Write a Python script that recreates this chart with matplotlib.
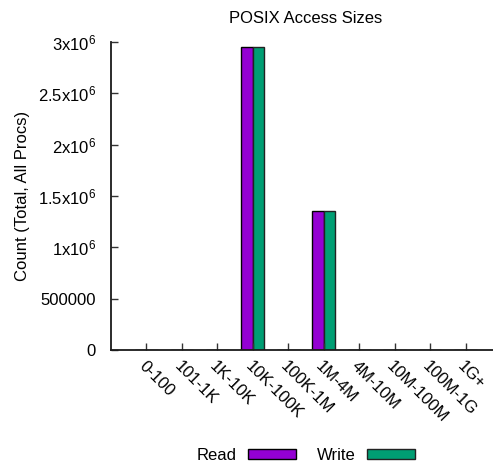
import numpy as np
import matplotlib
matplotlib.use("Agg")
import matplotlib.pyplot as plt

# access size buckets and counts
categories = ["0-100", "101-1K", "1K-10K", "10K-100K", "100K-1M",
              "1M-4M", "4M-10M", "10M-100M", "100M-1G", "1G+"]
read_counts = [0, 0, 0, 2948000, 0, 1351000, 0, 0, 0, 0]
write_counts = [0, 0, 0, 2950000, 0, 1350000, 0, 0, 0, 0]
ytick_values = [0, 500000, 1000000, 1500000, 2000000, 2500000, 3000000]
ytick_labels = ["0", "500000", "1x10$^{6}$", "1.5x10$^{6}$", "2x10$^{6}$",
                "2.5x10$^{6}$", "3x10$^{6}$"]

plt.rcParams["font.family"] = ["Liberation Sans", "DejaVu Sans"]
plt.rcParams["mathtext.fontset"] = "custom"
plt.rcParams["mathtext.rm"] = "Liberation Sans"
plt.rcParams["mathtext.it"] = "Liberation Sans:italic"
plt.rcParams["mathtext.bf"] = "Liberation Sans:bold"
plt.rcParams["font.size"] = 12

fig = plt.figure(figsize=(4.93, 4.63), dpi=100)
ax = fig.add_axes([111 / 493, 1 - 350 / 463, (501 - 111) / 493, (350 - 42) / 463])

x = np.arange(len(categories))
w = 0.32
ax.bar(x - w / 2, read_counts, w, color="#9400d3", edgecolor="black",
       linewidth=1, label="Read")
ax.bar(x + w / 2, write_counts, w, color="#009e73", edgecolor="#222222",
       linewidth=1, label="Write")

ax.set_xlim(-1, 10)
ax.set_ylim(0, 3000000)
ax.set_xticks(x)
ax.set_xticklabels(categories, rotation=-45, ha="left", va="top",
                   rotation_mode="anchor")
ax.set_yticks(ytick_values)
ax.set_yticklabels(ytick_labels)
ax.tick_params(direction="in", length=5, width=1, color="#333333")
ax.tick_params(axis="x", pad=6)
ax.tick_params(axis="y", pad=11)
for side in ["left", "bottom"]:
    ax.spines[side].set_linewidth(1.3)
    ax.spines[side].set_color("#1a1a1a")
ax.spines["top"].set_visible(False)
ax.spines["right"].set_visible(False)
ax.set_title("POSIX Access Sizes", fontsize=12, pad=14)
ax.set_ylabel("Count (Total, All Procs)")
ax.yaxis.set_label_coords((30 - 111) / 390, 0.5)

fig.legend(loc="center", bbox_to_anchor=(306 / 493, 1 - 455 / 463), ncol=2,
           frameon=False, markerfirst=False, handlelength=2.88,
           handleheight=0.54, columnspacing=1.26, handletextpad=0.66)

fig.savefig("out.png", dpi=100)
